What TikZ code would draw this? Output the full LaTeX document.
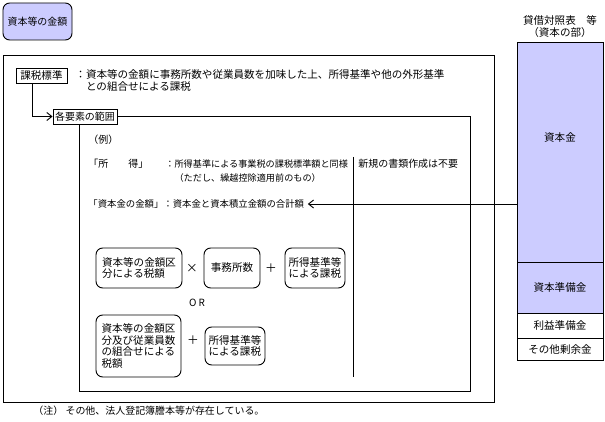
\documentclass[tikz,border=0pt]{standalone}
\usepackage{fontspec}
\setmainfont{Noto Sans CJK JP}
\usetikzlibrary{arrows.meta,positioning}
\definecolor{capfill}{RGB}{204,204,255}

\begin{document}
\begin{tikzpicture}[
    x=0.03cm, y=-0.03cm,
    line width=0.8pt,
    font=\fontsize{8.5}{10.5}\selectfont,
    plain/.style={inner sep=0pt, align=left},
    tagbox/.style={draw, inner sep=0pt, minimum height=0.45cm},
    calcbox/.style={draw, rounded corners=0.2cm, align=left, inner sep=0pt, minimum height=1.2cm, font=\fontsize{9}{10}\selectfont},
    opsign/.style={inner sep=0pt, font=\fontsize{10}{12}\selectfont},
    sheetcell/.style={draw, inner sep=0pt, outer sep=0pt, minimum width=2.58cm, font=\fontsize{9}{11}\selectfont},
    flowarrow/.style={-{Straight Barb[length=1.5mm,width=2.4mm]}, line width=0.8pt}
  ]
  \useasboundingbox (0,0) rectangle (605,422);
  \node[draw, rounded corners=0.2cm, fill=capfill, minimum width=2.07cm, minimum height=1.11cm] (amount) at (37.5,21.5) {資本等の金額};
  \draw (3,55) rectangle (494,402);
  \node[tagbox, minimum width=1.53cm, font=\fontsize{9}{11}\selectfont] (base) at (41.5,75.5) {課税標準};
  \node[plain, anchor=north west, font=\fontsize{9}{10.2}\selectfont] (basedesc) at (75,69) {：資本等の金額に事務所数や従業員数を加味した上、所得基準や他の外形基準\\\phantom{：}との組合せによる課税};
  \node[tagbox, minimum width=1.92cm] (scope) at (85,116.5) {各要素の範囲};
  \draw[flowarrow] ([xshift=-0.26cm]base.south) |- (scope.west);
  \coordinate (innercorner) at (79,391);
  \draw (scope.east) -| (470,391) -- (innercorner) -- (innercorner |- scope.south);

  \node[plain, anchor=west] (example) at (88,140) {（例）};
  \node[plain, anchor=west] (income) at (88,164) {「所　　得」};
  \node[plain, anchor=north west, font=\fontsize{7.8}{11.9}\selectfont] (incomedesc) at (165,159.5) {：所得基準による事業税の課税標準額と同様\\\phantom{：}（ただし、繰越控除適用前のもの）};
  \node[plain, anchor=west] (newdocs) at (358,164) {新規の書類作成は不要};
  \draw (353,157) -- (353,377);
  \node[plain, anchor=west, font=\fontsize{8}{10}\selectfont] (capital) at (88,204) {「資本金の金額」：資本金と資本積立金額の合計額};

  \node[calcbox, minimum width=2.58cm] (taxa) at (139,268) {資本等の金額区\\分による税額};
  \node[opsign] (times) at (192,268) {×};
  \node[calcbox, minimum width=1.68cm] (offices) at (232,268) {事務所数};
  \node[opsign] (plusa) at (271,268) {＋};
  \node[calcbox, minimum width=1.8cm] (incomea) at (315,268) {所得基準等\\による課税};
  \node[plain] (orword) at (197,303) {O R};
  \node[calcbox, minimum width=2.55cm, minimum height=1.86cm] (taxb) at (138.5,346) {資本等の金額区\\分及び従業員数\\の組合せによる\\税額};
  \node[opsign] (plusb) at (193,340) {＋};
  \node[calcbox, minimum width=1.8cm, minimum height=1.14cm] (incomeb) at (235,346) {所得基準等\\による課税};

  \node[plain, align=center, font=\fontsize{9}{9.8}\selectfont] (sheettitle) at (560,26.5) {貸借対照表　等\\（資本の部）};
  \node[sheetcell, fill=capfill, minimum height=6.6cm, text depth=0.9cm, anchor=north] (capcell) at (560,42) {資本金};
  \node[sheetcell, fill=capfill, minimum height=1.53cm, below=0pt of capcell] (reservecell) {資本準備金};
  \node[sheetcell, minimum height=0.75cm, below=0pt of reservecell] (profitcell) {利益準備金};
  \node[sheetcell, minimum height=0.66cm, below=0pt of profitcell] (surpluscell) {その他剰余金};
  \draw[flowarrow] (capcell.west |- capital.east) -- ([xshift=0.1cm]capital.east);

  \node[plain, anchor=west] (note) at (33,411) {（注） その他、法人登記簿謄本等が存在している。};
\end{tikzpicture}
\end{document}
